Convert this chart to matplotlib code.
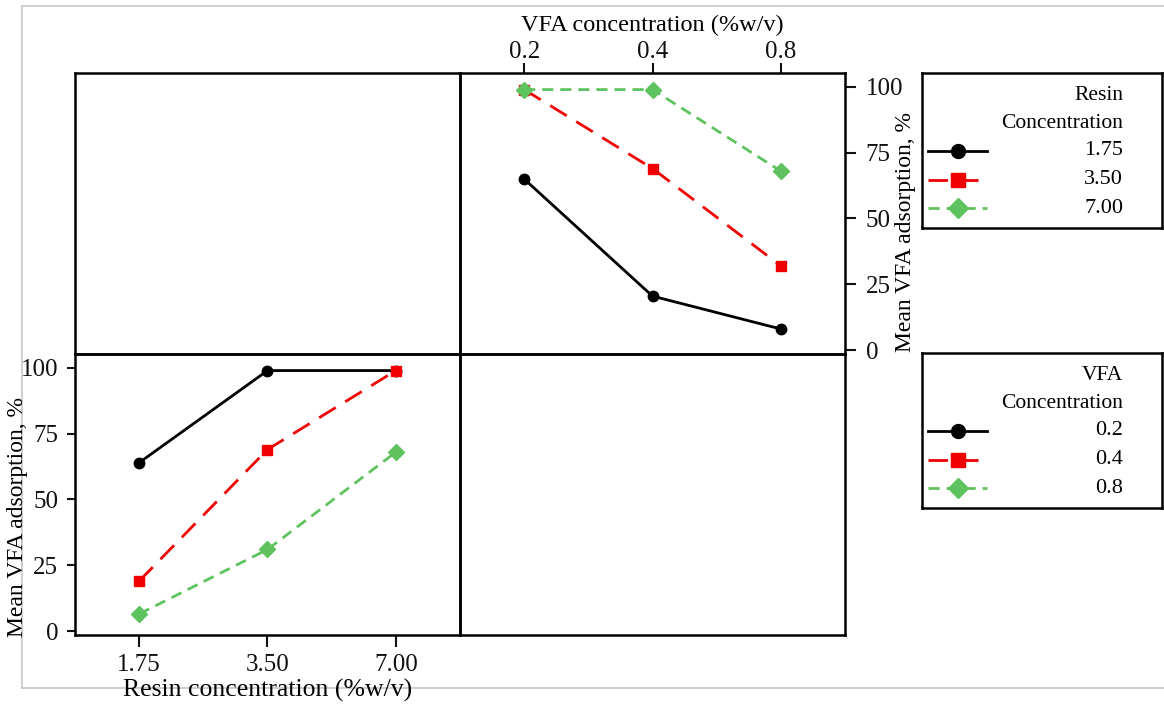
import matplotlib
matplotlib.use("Agg")
import matplotlib.pyplot as plt
from matplotlib.lines import Line2D

plt.rcParams["font.family"] = ["Liberation Serif", "DejaVu Serif"]

# ---------------- Data ----------------

vfa_levels = ["0.2", "0.4", "0.8"]
resin_levels = ["1.75", "3.50", "7.00"]

# mean adsorption vs VFA concentration, one line per resin concentration
resin_175 = [65, 20.5, 8]
resin_350 = [99, 69, 32]
resin_700 = [99, 99, 68]

# mean adsorption vs resin concentration, one line per VFA concentration
vfa_02 = [64, 99, 99]
vfa_04 = [19, 69, 99]
vfa_08 = [6.5, 31, 68]

y_ticks = [0, 25, 50, 75, 100]

# ---------------- Styles ----------------

black = "#000000"
red = "#f00000"
green = "#5ec25e"

styles = [
    dict(color=black, linestyle="-", marker="o", markersize=7.5),
    dict(color=red, linestyle=(0, (7, 4)), marker="s", markersize=7.5),
    dict(color=green, linestyle=(0, (4, 2.5)), marker="D", markersize=8),
]

W, H = 1164, 705
fig = plt.figure(figsize=(W / 100, H / 100), dpi=100)


def box(x0, y0, x1, y1):
    return [x0 / W, 1 - y1 / H, (x1 - x0) / W, (y1 - y0) / H]


# light gray frame around the figure
frame_kw = dict(color="#c6c6c6", lw=1.2, transform=fig.transFigure, zorder=0)
fig.add_artist(Line2D([22 / W, 22 / W], [1 - 6 / H, 1 - 688 / H], **frame_kw))
fig.add_artist(Line2D([22 / W, 1], [1 - 6 / H, 1 - 6 / H], **frame_kw))
fig.add_artist(Line2D([22 / W, 1], [1 - 688 / H, 1 - 688 / H], **frame_kw))

ax_tl = fig.add_axes(box(75, 73, 460, 354))
ax_tr = fig.add_axes(box(460, 73, 845, 354))
ax_bl = fig.add_axes(box(75, 354, 460, 635))
ax_br = fig.add_axes(box(460, 354, 845, 635))

for ax in [ax_tl, ax_tr, ax_bl, ax_br]:
    ax.set_xlim(-0.5, 2.5)
    ax.set_ylim(-1.5, 105.3)
    ax.patch.set_alpha(0)
    for s in ax.spines.values():
        s.set_linewidth(1.8)
    ax.tick_params(width=1.5, labelsize=18, colors="#111111")

for ax in [ax_tl, ax_br]:
    ax.set_xticks([])
    ax.set_yticks([])

# ---------------- Top right: vs VFA ----------------

x = range(len(vfa_levels))
for vals, st in zip([resin_175, resin_350, resin_700], styles):
    ax_tr.plot(x, vals, lw=2, **st)

ax_tr.set_xticks(list(x))
ax_tr.set_xticklabels(vfa_levels)
ax_tr.xaxis.tick_top()
ax_tr.xaxis.set_label_position("top")
ax_tr.tick_params(axis="x", length=7.5, pad=0)
ax_tr.set_xlabel("VFA concentration (%w/v)", fontsize=17.5, labelpad=7)
ax_tr.set_yticks(y_ticks)
ax_tr.yaxis.tick_right()
ax_tr.yaxis.set_label_position("right")
ax_tr.tick_params(axis="y", length=8, pad=7)
ax_tr.set_ylabel("Mean VFA adsorption, %", fontsize=17)
ax_tr.yaxis.set_label_coords(1.13, 0.435)

# ---------------- Bottom left: vs Resin ----------------

x = range(len(resin_levels))
for vals, st in zip([vfa_02, vfa_04, vfa_08], styles):
    ax_bl.plot(x, vals, lw=2, **st)

ax_bl.set_xticks(list(x))
ax_bl.set_xticklabels(resin_levels)
ax_bl.tick_params(axis="x", length=8.5, pad=5)
ax_bl.set_xlabel("Resin concentration (%w/v)", fontsize=18.5, labelpad=2)
ax_bl.set_yticks(y_ticks)
ax_bl.tick_params(axis="y", length=6, pad=6)
ax_bl.set_ylabel("Mean VFA adsorption, %", fontsize=17)
ax_bl.yaxis.set_label_coords(-0.122, 0.42)

# ---------------- Legend boxes ----------------


def legend_box(rect, title, labels):
    lg = fig.add_axes(rect)
    lg.set_xlim(0, 1)
    lg.set_ylim(0, 1)
    lg.set_xticks([])
    lg.set_yticks([])
    for s in lg.spines.values():
        s.set_linewidth(1.8)
    lg.text(0.8375, 0.858, title, ha="right", va="center", fontsize=15.5)
    lg.text(0.8375, 0.671, "Concentration", ha="right", va="center", fontsize=15.5)
    rows = [0.497, 0.31, 0.129]
    for yy, lab, st in zip(rows, labels, styles):
        lg.plot([0.025, 0.27], [yy, yy], lw=2, color=st["color"],
                linestyle=st["linestyle"])
        lg.plot([0.15], [yy], color=st["color"], marker=st["marker"],
                markersize=st["markersize"] + 2.5, linestyle="none")
        lg.text(0.8375, yy, lab, ha="right", va="center", fontsize=16)


legend_box(box(922, 73, 1162, 228), "Resin", resin_levels)
legend_box(box(922, 353, 1162, 508), "VFA", vfa_levels)

plt.savefig("out.png", dpi=100)
plt.close()
